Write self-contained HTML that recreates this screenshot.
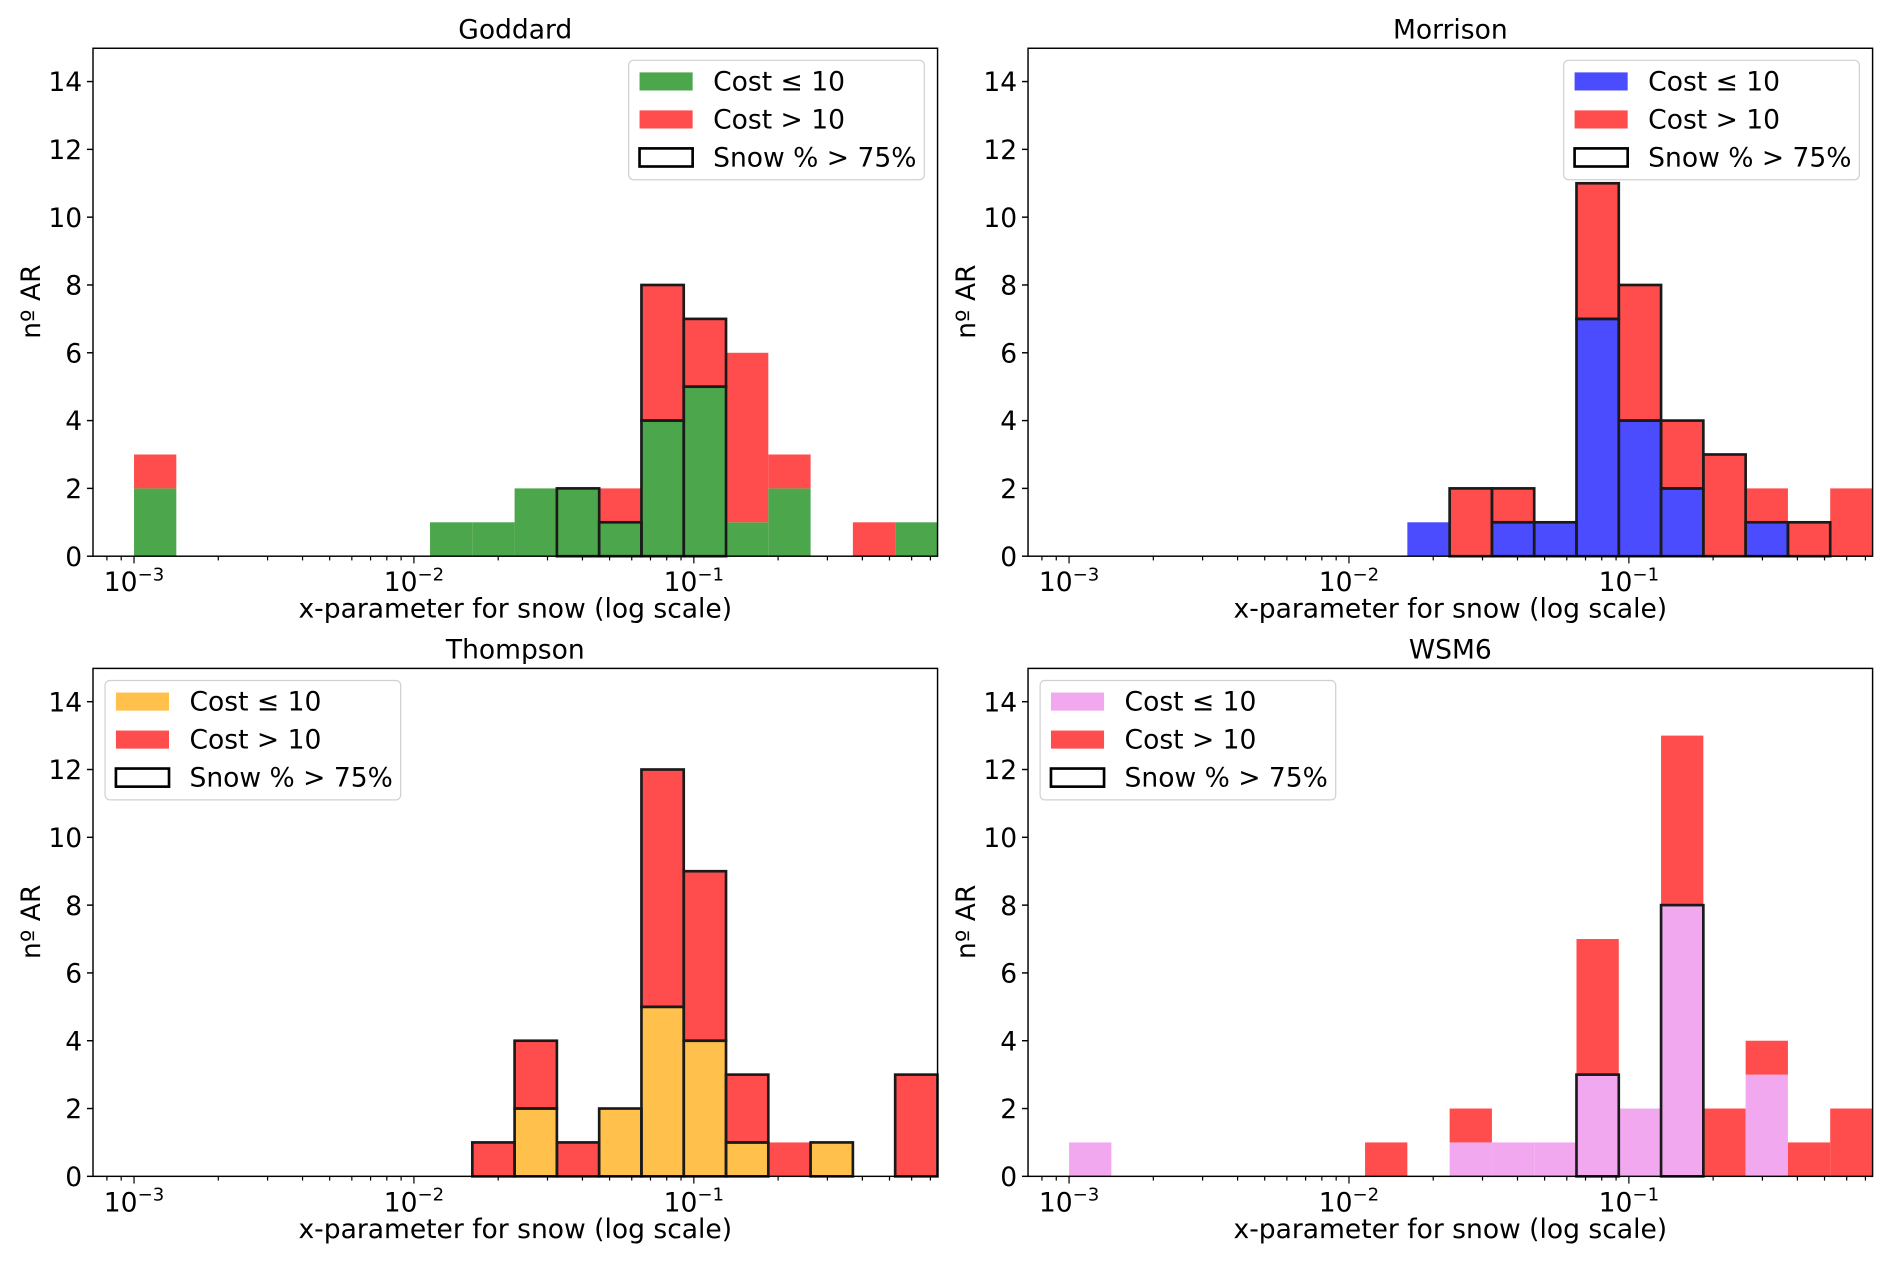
<!DOCTYPE html>
<html><head><meta charset="utf-8"><style>
html,body{margin:0;padding:0;background:#fff}
svg{display:block}
text{font-family:"DejaVu Sans","Liberation Sans",sans-serif;fill:#000}
</style></head><body>
<svg id="fig" width="1892" height="1262" viewBox="0 0 1568 1046" xmlns="http://www.w3.org/2000/svg"></svg>
<script>
const titles = ["Goddard","Morrison","Thompson","WSM6"];
const lowColors = ["#4ca64c","#4c4cff","#ffc04c","#f2a8ee"];
const lowVals = [
 [2,0,0,0,0,0,0,1,1,2,2,1,4,5,1,2,0,0,1],
 [0,0,0,0,0,0,0,0,1,0,1,1,7,4,2,0,1,0,0],
 [0,0,0,0,0,0,0,0,0,2,0,2,5,4,1,0,1,0,0],
 [1,0,0,0,0,0,0,0,0,1,1,1,3,2,8,0,3,0,0]];
const highVals = [
 [1,0,0,0,0,0,0,0,0,0,0,1,4,2,5,1,0,1,0],
 [0,0,0,0,0,0,0,0,0,2,1,0,4,4,2,3,1,1,2],
 [0,0,0,0,0,0,0,0,1,2,1,0,7,5,2,1,0,0,3],
 [0,0,0,0,0,0,0,1,0,1,0,0,4,0,5,2,1,1,2]];
const snowLow = [
 [0,0,0,0,0,0,0,0,0,0,2,1,4,5,0,0,0,0,0],
 [0,0,0,0,0,0,0,0,0,0,1,1,7,4,2,0,1,0,0],
 [0,0,0,0,0,0,0,0,0,2,0,2,5,4,1,0,1,0,0],
 [0,0,0,0,0,0,0,0,0,0,0,0,3,0,8,0,0,0,0]];
const snowHigh = [
 [0,0,0,0,0,0,0,0,0,0,0,0,4,2,0,0,0,0,0],
 [0,0,0,0,0,0,0,0,0,2,1,0,4,4,2,3,0,1,0],
 [0,0,0,0,0,0,0,0,1,2,1,0,7,5,2,0,0,0,3],
 [0,0,0,0,0,0,0,0,0,0,0,0,0,0,0,0,0,0,0]];
const yTicks = [0,2,4,6,8,10,12,14];
const xDecades = [-3,-2,-1];
const legendLabels = ["Cost ≤ 10","Cost > 10","Snow % > 75%"];
const binLo = -3, binW = 0.15107, nBins = 19;

const NS="http://www.w3.org/2000/svg";
const svg=document.getElementById('fig');
function el(tag,attrs,parent){const e=document.createElementNS(NS,tag);for(const k in attrs)e.setAttribute(k,attrs[k]);(parent||svg).appendChild(e);return e;}

const offs=[[0,0],[775,0],[0,514],[775,514]];
const legendX=[521,1296,87,862];
titles.forEach((t,p)=>{
  const [ox,oy]=offs[p];
  const L=77+ox,R=777+ox,T=40+oy,B=461+oy;
  const x0=111+ox, dec=232;
  const xs=v=>x0+(v+3)*dec;
  const ys=v=>B-v*28.1;
  const g=el('g',{});
  
  
  // bars
  for(let i=0;i<nBins;i++){
    const a=xs(binLo+i*binW), b=xs(binLo+(i+1)*binW);
    const lo=lowVals[p][i], hi=highVals[p][i];
    if(lo>0){const r=el('rect',{x:a,y:ys(lo),width:b-a,height:ys(0)-ys(lo),fill:lowColors[p]},g);
      }
    if(hi>0){const r=el('rect',{x:a,y:ys(lo+hi),width:b-a,height:ys(lo)-ys(lo+hi),fill:'#ff4c4c'},g);
      }
  }
  for(let i=0;i<nBins;i++){
    const a=xs(binLo+i*binW), b=xs(binLo+(i+1)*binW);
    const sl=snowLow[p][i], sh=snowHigh[p][i];
    if(sl>0){const r=el('rect',{x:a,y:ys(sl),width:b-a,height:ys(0)-ys(sl),fill:'none',stroke:'#1a1a1a','stroke-width':2.2},g);
      }
    if(sh>0){const r=el('rect',{x:a,y:ys(sl+sh),width:b-a,height:ys(sl)-ys(sl+sh),fill:'none',stroke:'#1a1a1a','stroke-width':2.2},g);
      }
  }
  // frame
  const fr=el('rect',{x:L,y:T,width:R-L,height:B-T,fill:'none',stroke:'#000','stroke-width':1.2},g);
  
  // y ticks
  yTicks.forEach(v=>{
    el('line',{x1:L-5,x2:L,y1:ys(v),y2:ys(v),stroke:'#000','stroke-width':1.2},g);
    const tx=el('text',{x:L-9,y:ys(v)+8,'text-anchor':'end','font-size':22},g);tx.textContent=v;
    
  });
  // x ticks
  for(let d=-4;d<=0;d++){for(let m=1;m<10;m++){const v=d+Math.log10(m);const x=xs(v);
    if(x<L||x>R)continue;
    el('line',{x1:x,x2:x,y1:B,y2:B+(m===1?6:3.5),stroke:'#000','stroke-width':1},g);}}
  xDecades.forEach(d=>{
    const tx=el('text',{x:xs(d),y:B+29,'text-anchor':'middle','font-size':22},g);
    
    tx.appendChild(document.createTextNode('10'));
    const s=el('tspan',{dy:-9,'font-size':15},tx);s.textContent='−'+(-d);
  });
  const xt=el('text',{x:(L+R)/2,y:B+51,'text-anchor':'middle','font-size':22},g);xt.textContent='x-parameter for snow (log scale)';
  
  const yt=el('text',{x:0,y:0,'text-anchor':'middle','font-size':22,transform:`translate(${33+ox},${250+oy}) rotate(-90)`},g);yt.textContent='nº AR';
  
  const tt=el('text',{x:(L+R)/2,y:32+oy,'text-anchor':'middle','font-size':22},g);tt.textContent=t;
  
  // legend
  const lx=legendX[p], ly=50+oy;
  const lg=el('g',{},g);
  
  el('rect',{x:lx,y:ly,width:245,height:99,rx:4,fill:'#fff','fill-opacity':0.85,stroke:'#d0d0d0','stroke-width':1},lg);
  const sw=[lowColors[p],'#ff4c4c','none'];
  legendLabels.forEach((lab,k)=>{
    const cy=ly+17+k*31.5;
    el('rect',{x:lx+9,y:cy-7,width:44,height:15,fill:sw[k],stroke:k===2?'#000':'none','stroke-width':2.2},lg);
    const tx=el('text',{x:lx+70,y:cy+8,'font-size':22},lg);tx.textContent=lab;
    
  });
});
</script>
</body></html>
